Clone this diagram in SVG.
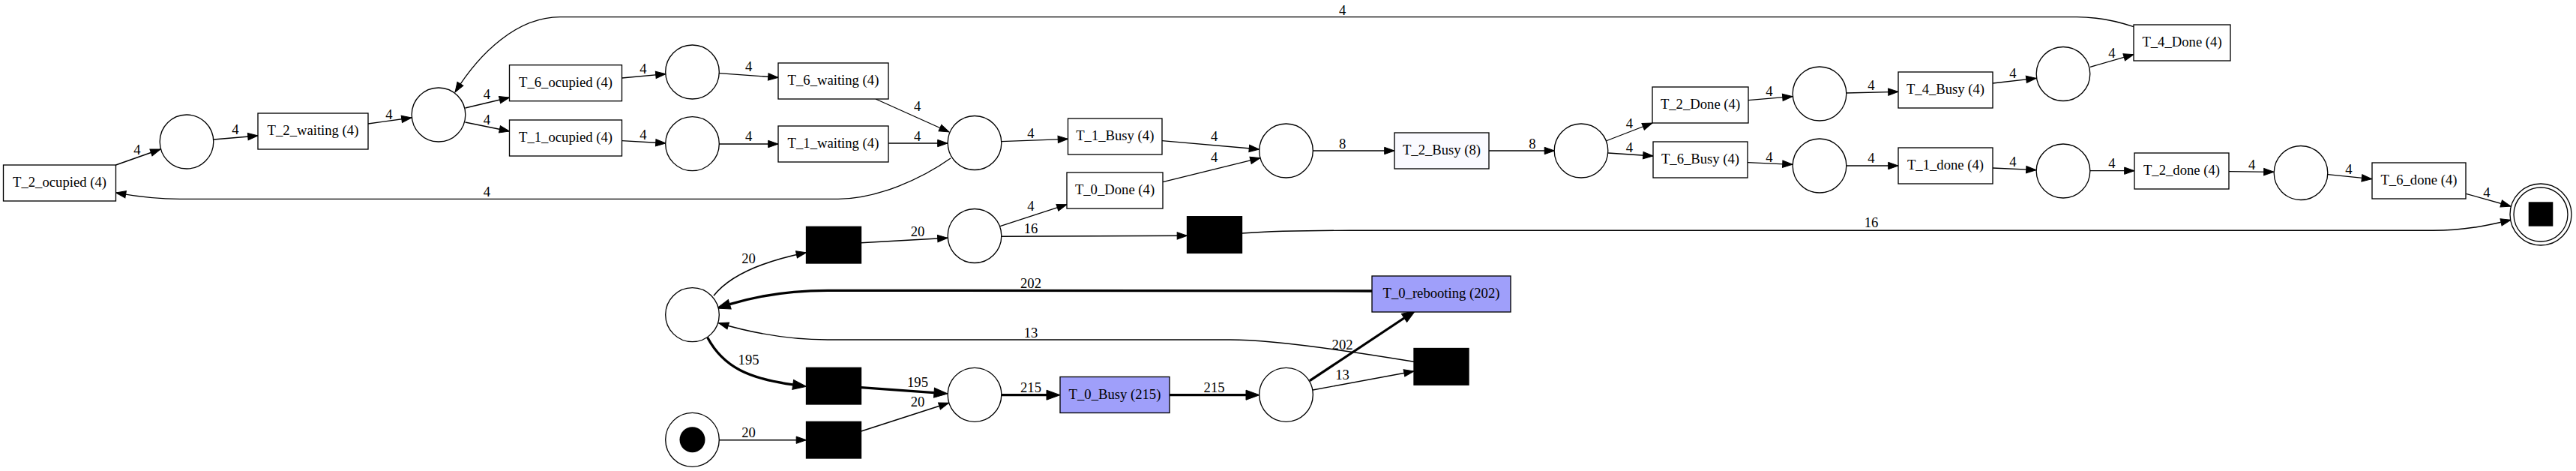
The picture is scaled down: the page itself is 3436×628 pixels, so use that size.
<svg xmlns="http://www.w3.org/2000/svg" width="3436" height="628" viewBox="0 0 3436 628">
<style>
text{font-family:"Liberation Serif","Times New Roman",serif;font-size:18.67px;fill:#000;text-anchor:middle}
.t{fill:#fff;stroke:#000;stroke-width:1.33}
.tk{fill:#000;stroke:#000;stroke-width:1.33}
.tv{fill:#9f9ffa;stroke:#000;stroke-width:1.33}
.tl{fill:#fafaff;stroke:#000;stroke-width:1.33}
.p{fill:#fff;stroke:#000;stroke-width:1.33}
.e{fill:none;stroke:#000;stroke-width:1.33;marker-end:url(#a)}
.e2{fill:none;stroke:#000;stroke-width:1.45;marker-end:url(#a)}
.e3{fill:none;stroke:#000;stroke-width:3.3;marker-end:url(#at)}
</style>
<defs>
<marker id="a" markerUnits="userSpaceOnUse" markerWidth="14" markerHeight="10" refX="13.3" refY="4.67" orient="auto" overflow="visible"><path d="M0,0L13.3,4.67L0,9.33z" fill="#000" stroke="#000" stroke-width="1"/></marker>
<marker id="at" markerUnits="userSpaceOnUse" markerWidth="19" markerHeight="14" refX="0" refY="6.5" orient="auto" overflow="visible"><path d="M0,0L18,6.5L0,13z" fill="#000" stroke="#000" stroke-width="1"/></marker>
</defs>
<rect width="3436" height="628" fill="#fff"/>
<g id="connectors">
<path class="e" d="M154.5,220L214,199"/>
<path class="e" d="M285,186L344,181"/>
<path class="e" d="M491,165L549,157"/>
<path class="e" d="M620.5,144L679.5,130"/>
<path class="e" d="M620.5,163L679.5,175"/>
<path class="e" d="M829.5,104L888,98.7"/>
<path class="e" d="M829.5,187.7L888,191"/>
<path class="e" d="M959,97.7L1038,103.3"/>
<path class="e" d="M959,192L1038,192"/>
<path class="e" d="M1168,132L1266,176"/>
<path class="e" d="M1185,191L1264,191"/>
<path class="e" d="M1268,211C1230,238 1170,265.3 1118,265.3L240,265.3C200,265.3 172,260 154.5,257"/>
<path class="e" d="M1335.7,188.7L1424.5,185.3"/>
<path class="e" d="M1550,187.7L1679.5,199"/>
<path class="e" d="M1551,242.7L1681,210.7"/>
<path class="e" d="M1751,201L1860,201"/>
<path class="e" d="M1986,201L2073.5,201"/>
<path class="e" d="M2142,188L2204,164"/>
<path class="e" d="M2145,204L2205,208"/>
<path class="e" d="M2332,133.7L2391,128.7"/>
<path class="e" d="M2331,216.7L2391,219.3"/>
<path class="e" d="M2462,124L2532,122.3"/>
<path class="e" d="M2462,221L2532,221"/>
<path class="e" d="M2658,111L2716,104.3"/>
<path class="e" d="M2658,224L2716,226.7"/>
<path class="e" d="M2788,89.3L2846,72.7"/>
<path class="e" d="M2788,227.7L2847,227.7"/>
<path class="e" d="M2846,35.7C2820,27 2795,22.7 2770,22.7L747,22.7C690,22.7 640,70 607,123"/>
<path class="e" d="M2973,228.7L3033,229.3"/>
<path class="e" d="M3105,232.7L3163.6,238.7"/>
<path class="e" d="M3289.4,258.3L3349,275"/>
<path class="e" d="M1334,301.7L1423,272.7"/>
<path class="e2" d="M1335.7,315.3L1583.5,314.3"/>
<path class="e2" d="M1656.7,311C1700,308 1750,307.3 1800,307.3L3245,307.3C3290,307.3 3320,300 3349,293.3"/>
<path class="e2" d="M959,586.7L1075.5,586.7"/>
<path class="e2" d="M1148.6,575L1265.6,537.3"/>
<path class="e2" d="M952,394.3C975,365 1020,348 1075.5,336.7"/>
<path class="e2" d="M1148.6,323.7L1264,317.3"/>
<path class="e3" d="M943.7,450C965,490 1000,505 1057.7,512.9"/>
<path class="e3" d="M1148.6,516.7L1246,523.7"/>
<path class="e3" d="M1335.7,526.7L1396,526.7"/>
<path class="e3" d="M1560,526.7L1662,526.7"/>
<path class="e3" d="M1747,507.7L1873,424"/>
<path class="e2" d="M1751,520L1886,495"/>
<path class="e3" d="M1830,388L1104,387.3C1050,387.3 1005,396 973.3,405.7"/>
<path class="e2" d="M1886,482.3C1800,468 1700,453 1641,453L1104,453C1050,453 1000,443 958.5,430.7"/>
<text x="183" y="206.3">4</text>
<text x="314" y="179.3">4</text>
<text x="519" y="159.3">4</text>
<text x="649.5" y="132.3">4</text>
<text x="649.5" y="166.3">4</text>
<text x="858" y="98.3">4</text>
<text x="858" y="186.3">4</text>
<text x="998.6" y="95.3">4</text>
<text x="998.6" y="188.3">4</text>
<text x="1223.6" y="148.3">4</text>
<text x="1223.6" y="188.3">4</text>
<text x="649.5" y="262.3">4</text>
<text x="1375" y="184.3">4</text>
<text x="1619.6" y="188.3">4</text>
<text x="1619.6" y="215.6">4</text>
<text x="1790.6" y="198.3">8</text>
<text x="2044" y="198.3">8</text>
<text x="2173.5" y="171.3">4</text>
<text x="2173.5" y="203.3">4</text>
<text x="2360" y="128.3">4</text>
<text x="2360" y="215.6">4</text>
<text x="2496" y="120.3">4</text>
<text x="2496" y="217.3">4</text>
<text x="2685" y="103.6">4</text>
<text x="2685" y="222.3">4</text>
<text x="2817" y="77">4</text>
<text x="2817" y="223.6">4</text>
<text x="1790.6" y="19.6">4</text>
<text x="3003.6" y="226.3">4</text>
<text x="3133" y="232.3">4</text>
<text x="3317" y="263.3">4</text>
<text x="1375" y="281.3">4</text>
<text x="1375" y="311.3">16</text>
<text x="2496" y="303">16</text>
<text x="998.6" y="583">20</text>
<text x="1224" y="542.3">20</text>
<text x="998.6" y="351.3">20</text>
<text x="1224" y="314.6">20</text>
<text x="998.6" y="485.6">195</text>
<text x="1224" y="515.6">195</text>
<text x="1375" y="523">215</text>
<text x="1619.6" y="523">215</text>
<text x="1790.6" y="466.3">202</text>
<text x="1790.6" y="506.3">13</text>
<text x="1375" y="383.6">202</text>
<text x="1375" y="449.6">13</text>
</g>
<g id="T_2_ocupied"><rect class="t" x="4.5" y="220" width="150" height="48"/><text x="79.5" y="249">T_2_ocupied (4)</text></g>
<g id="T_2_waiting"><rect class="t" x="344" y="151" width="147" height="48"/><text x="417.5" y="180">T_2_waiting (4)</text></g>
<g id="T_6_ocupied"><rect class="t" x="679.5" y="86.7" width="150" height="48"/><text x="754.5" y="115.7">T_6_ocupied (4)</text></g>
<g id="T_1_ocupied"><rect class="t" x="679.5" y="160" width="150" height="48"/><text x="754.5" y="189">T_1_ocupied (4)</text></g>
<g id="T_6_waiting"><rect class="t" x="1038" y="84" width="147" height="48"/><text x="1111.5" y="113">T_6_waiting (4)</text></g>
<g id="T_1_waiting"><rect class="t" x="1038" y="168" width="147" height="48"/><text x="1111.5" y="197">T_1_waiting (4)</text></g>
<g id="T_1_Busy"><rect class="t" x="1424.5" y="158" width="125.5" height="48"/><text x="1487.3" y="187">T_1_Busy (4)</text></g>
<g id="T_0_Done"><rect class="t" x="1423" y="230" width="128" height="48"/><text x="1487" y="259">T_0_Done (4)</text></g>
<g id="T_2_Busy"><rect class="tl" x="1860" y="177" width="126" height="48"/><text x="1923" y="206">T_2_Busy (8)</text></g>
<g id="T_2_Done"><rect class="t" x="2204" y="116" width="128" height="48"/><text x="2268" y="145">T_2_Done (4)</text></g>
<g id="T_6_Busy"><rect class="t" x="2205" y="189" width="126" height="48"/><text x="2268" y="218">T_6_Busy (4)</text></g>
<g id="T_4_Busy"><rect class="t" x="2532" y="96" width="126" height="48"/><text x="2595" y="125">T_4_Busy (4)</text></g>
<g id="T_1_done"><rect class="t" x="2532" y="197" width="126" height="48"/><text x="2595" y="226">T_1_done (4)</text></g>
<g id="T_4_Done"><rect class="t" x="2846" y="33" width="129" height="48"/><text x="2910.5" y="62">T_4_Done (4)</text></g>
<g id="T_2_done"><rect class="t" x="2847" y="204" width="126" height="48"/><text x="2910" y="233">T_2_done (4)</text></g>
<g id="T_6_done"><rect class="t" x="3164" y="217" width="125" height="48"/><text x="3226.5" y="246">T_6_done (4)</text></g>
<g id="T_0_Busy"><rect class="tv" x="1414" y="502.5" width="146" height="48"/><text x="1487" y="531.5">T_0_Busy (215)</text></g>
<g id="T_0_rebooting"><rect class="tv" x="1830" y="368" width="185" height="48"/><text x="1922.5" y="397">T_0_rebooting (202)</text></g>
<g id="tau_a"><rect class="tk" x="1075.5" y="302.3" width="73" height="48.7"/></g>
<g id="tau_b"><rect class="tk" x="1075.5" y="490.3" width="73" height="48.7"/></g>
<g id="tau_c"><rect class="tk" x="1075.5" y="562.3" width="73" height="48.7"/></g>
<g id="tau_e"><rect class="tk" x="1583.5" y="288.7" width="73" height="48.7"/></g>
<g id="tau_d"><rect class="tk" x="1886" y="464.5" width="73" height="48.7"/></g>
<g id="p1"><ellipse class="p" cx="249" cy="189" rx="35.8" ry="36"/></g>
<g id="p2"><ellipse class="p" cx="585" cy="153" rx="35.8" ry="36"/></g>
<g id="p3"><ellipse class="p" cx="923.5" cy="96" rx="35.8" ry="36"/></g>
<g id="p4"><ellipse class="p" cx="923.5" cy="191.7" rx="35.8" ry="36"/></g>
<g id="p5"><ellipse class="p" cx="1300" cy="190.5" rx="35.8" ry="36"/></g>
<g id="p6"><ellipse class="p" cx="1715.5" cy="201" rx="35.8" ry="36"/></g>
<g id="p7"><ellipse class="p" cx="1300" cy="314.5" rx="35.8" ry="36"/></g>
<g id="p8"><ellipse class="p" cx="2109" cy="201" rx="35.8" ry="36"/></g>
<g id="p9"><ellipse class="p" cx="2427" cy="125" rx="35.8" ry="36"/></g>
<g id="p10"><ellipse class="p" cx="2427" cy="221" rx="35.8" ry="36"/></g>
<g id="p11"><ellipse class="p" cx="2752" cy="98.5" rx="35.8" ry="36"/></g>
<g id="p12"><ellipse class="p" cx="2752" cy="228" rx="35.8" ry="36"/></g>
<g id="p13"><ellipse class="p" cx="3069" cy="230.5" rx="35.8" ry="36"/></g>
<g id="p14"><ellipse class="p" cx="923.5" cy="419.7" rx="35.8" ry="36"/></g>
<g id="p15"><ellipse class="p" cx="1300" cy="526.3" rx="35.8" ry="36"/></g>
<g id="p16"><ellipse class="p" cx="1715.5" cy="526.3" rx="35.8" ry="36"/></g>
<g id="start"><ellipse class="p" cx="923.5" cy="586.3" rx="35.8" ry="36"/><circle cx="923.5" cy="586.3" r="17" fill="#000"/></g>
<g id="end"><circle class="p" cx="3389" cy="286" r="41"/><circle class="p" cx="3389" cy="286" r="36"/><rect x="3372.7" y="269.3" width="32.6" height="32.4" fill="#000"/></g>
</svg>
